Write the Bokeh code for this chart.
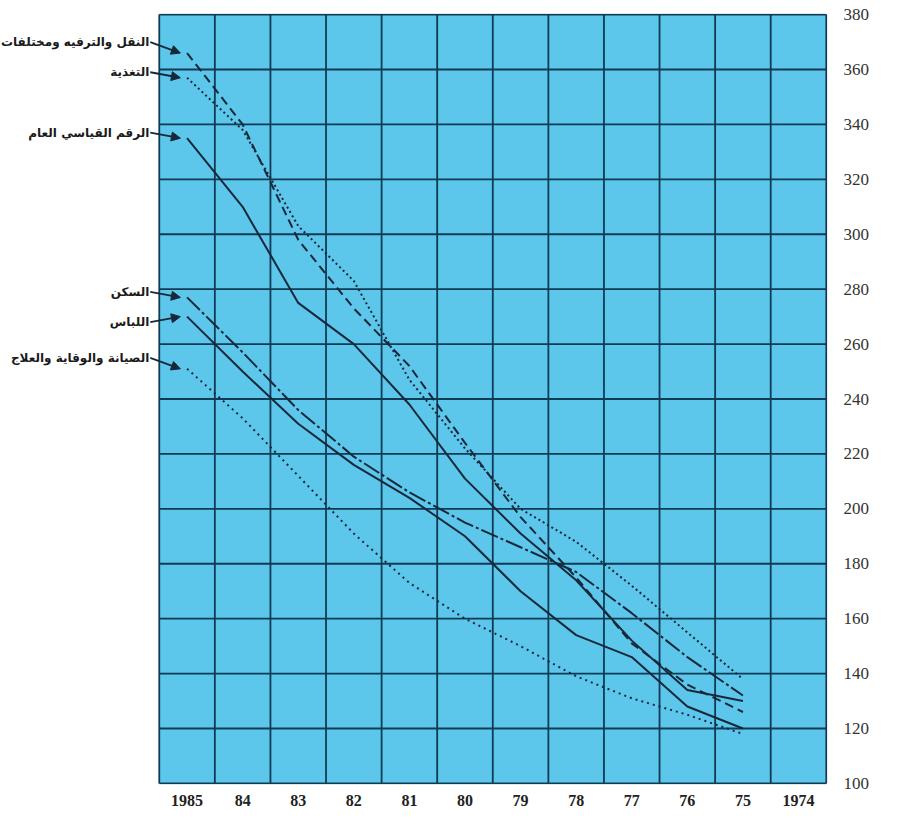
from bokeh.plotting import figure
from bokeh.models import Range1d, FixedTicker, Label, Arrow, NormalHead
from bokeh.embed import file_html
from bokeh.resources import INLINE

# ---- data ----
years = [1985, 1984, 1983, 1982, 1981, 1980, 1979, 1978, 1977, 1976, 1975]
all_years = [1985, 1984, 1983, 1982, 1981, 1980, 1979, 1978, 1977, 1976, 1975, 1974]
x_tick_labels = ["1985", "84", "83", "82", "81", "80", "79", "78", "77", "76", "75", "1974"]
y_ticks = [100, 120, 140, 160, 180, 200, 220, 240, 260, 280, 300, 320, 340, 360, 380]

transport = [366, 340, 298, 273, 252, 224, 197, 175, 151, 136, 126]
food = [357, 338, 303, 283, 247, 222, 200, 188, 172, 155, 138]
general = [335, 310, 275, 260, 238, 211, 191, 174, 152, 134, 130]
housing = [277, 257, 236, 219, 206, 195, 186, 177, 162, 146, 132]
clothing = [270, 250, 231, 216, 204, 190, 170, 154, 146, 128, 120]
health = [251, 233, 212, 191, 173, 160, 150, 139, 131, 125, 118]

names = [
    "النقل والترفيه ومختلفات",
    "التغذية",
    "الرقم القياسي العام",
    "السكن",
    "اللباس",
    "الصيانة والوقاية والعلاج",
]
series = [transport, food, general, housing, clothing, health]

# ---- styles / layout ----
dashes = ["9 5", "2 3", "solid", "18 3 3 3", "solid", "2 4"]
label_dy = [4, 2, 2, 2, -2, 4]
ink = "#16283a"
grid_col = "#0f3b55"
blue = "#5CC6EB"

W, H = 882, 808
right_border = 55
left_px = 159                      # blank margin (for labels) left of the chart box
col_px = (W - right_border - left_px) / len(all_years)
x_left_edge = all_years[0] + 0.5
x_right_edge = all_years[-1] - 0.5
x_start = x_left_edge + left_px / col_px
x_end = x_right_edge - 1.2 / col_px
pad_y = 0.4

p = figure(
    width=W, height=H,
    x_range=Range1d(x_start, x_end),
    y_range=Range1d(y_ticks[0] - pad_y, y_ticks[-1] + pad_y),
    y_axis_location="right",
    output_backend="svg", toolbar_location=None,
    min_border_left=0, min_border_right=right_border,
    min_border_top=13, min_border_bottom=22,
)
p.background_fill_color = "white"
p.border_fill_color = "white"
p.outline_line_color = None
p.xgrid.visible = False
p.ygrid.visible = False

# blue chart box
p.quad(left=[x_left_edge], right=[x_right_edge], bottom=[y_ticks[0]], top=[y_ticks[-1]],
       fill_color=blue, line_color=None)

# grid lines (cell borders between years, value lines)
vx = [yr + 0.5 for yr in all_years] + [x_right_edge]
p.segment(x0=vx, x1=vx, y0=[y_ticks[0]] * len(vx), y1=[y_ticks[-1]] * len(vx),
          line_color=grid_col, line_width=1.8)
p.segment(x0=[x_left_edge] * len(y_ticks), x1=[x_right_edge] * len(y_ticks),
          y0=y_ticks, y1=y_ticks, line_color=grid_col, line_width=1.8)

xa = p.xaxis[0]
xa.ticker = FixedTicker(ticks=all_years)
xa.major_label_overrides = {yr: lab for yr, lab in zip(all_years, x_tick_labels)}
xa.axis_line_color = None
xa.major_tick_line_color = None
xa.minor_tick_line_color = None
xa.major_label_standoff = 4
xa.major_label_text_font = "Liberation Serif"
xa.major_label_text_font_size = "16px"
xa.major_label_text_font_style = "bold"
xa.major_label_text_color = "#222222"

ya = p.yaxis[0]
ya.ticker = FixedTicker(ticks=y_ticks)
ya.axis_line_color = None
ya.major_tick_line_color = None
ya.minor_tick_line_color = None
ya.major_label_standoff = 10
ya.major_label_text_font = "Liberation Serif"
ya.major_label_text_font_size = "17px"
ya.major_label_text_color = "#333333"

for vals, dash in zip(series, dashes):
    p.line(years, vals, line_color=ink, line_width=2, line_dash=dash)

x_text = x_left_edge + 9 / col_px
x_tip = years[0] + 0.12
for name, vals, dy in zip(names, series, label_dy):
    p.add_layout(Label(x=x_text, y=vals[0] + dy, text=name,
                       text_align="right", text_baseline="middle",
                       text_font="DejaVu Sans", text_font_size="12px",
                       text_font_style="bold", text_color="#1a1a1a", x_offset=-1))
    p.add_layout(Arrow(end=NormalHead(size=9, fill_color=ink, line_color=ink),
                       x_start=x_text, y_start=vals[0] + dy,
                       x_end=x_tip, y_end=vals[0],
                       line_color=ink, line_width=1.8))

open("out.html", "w").write(file_html(p, INLINE))
